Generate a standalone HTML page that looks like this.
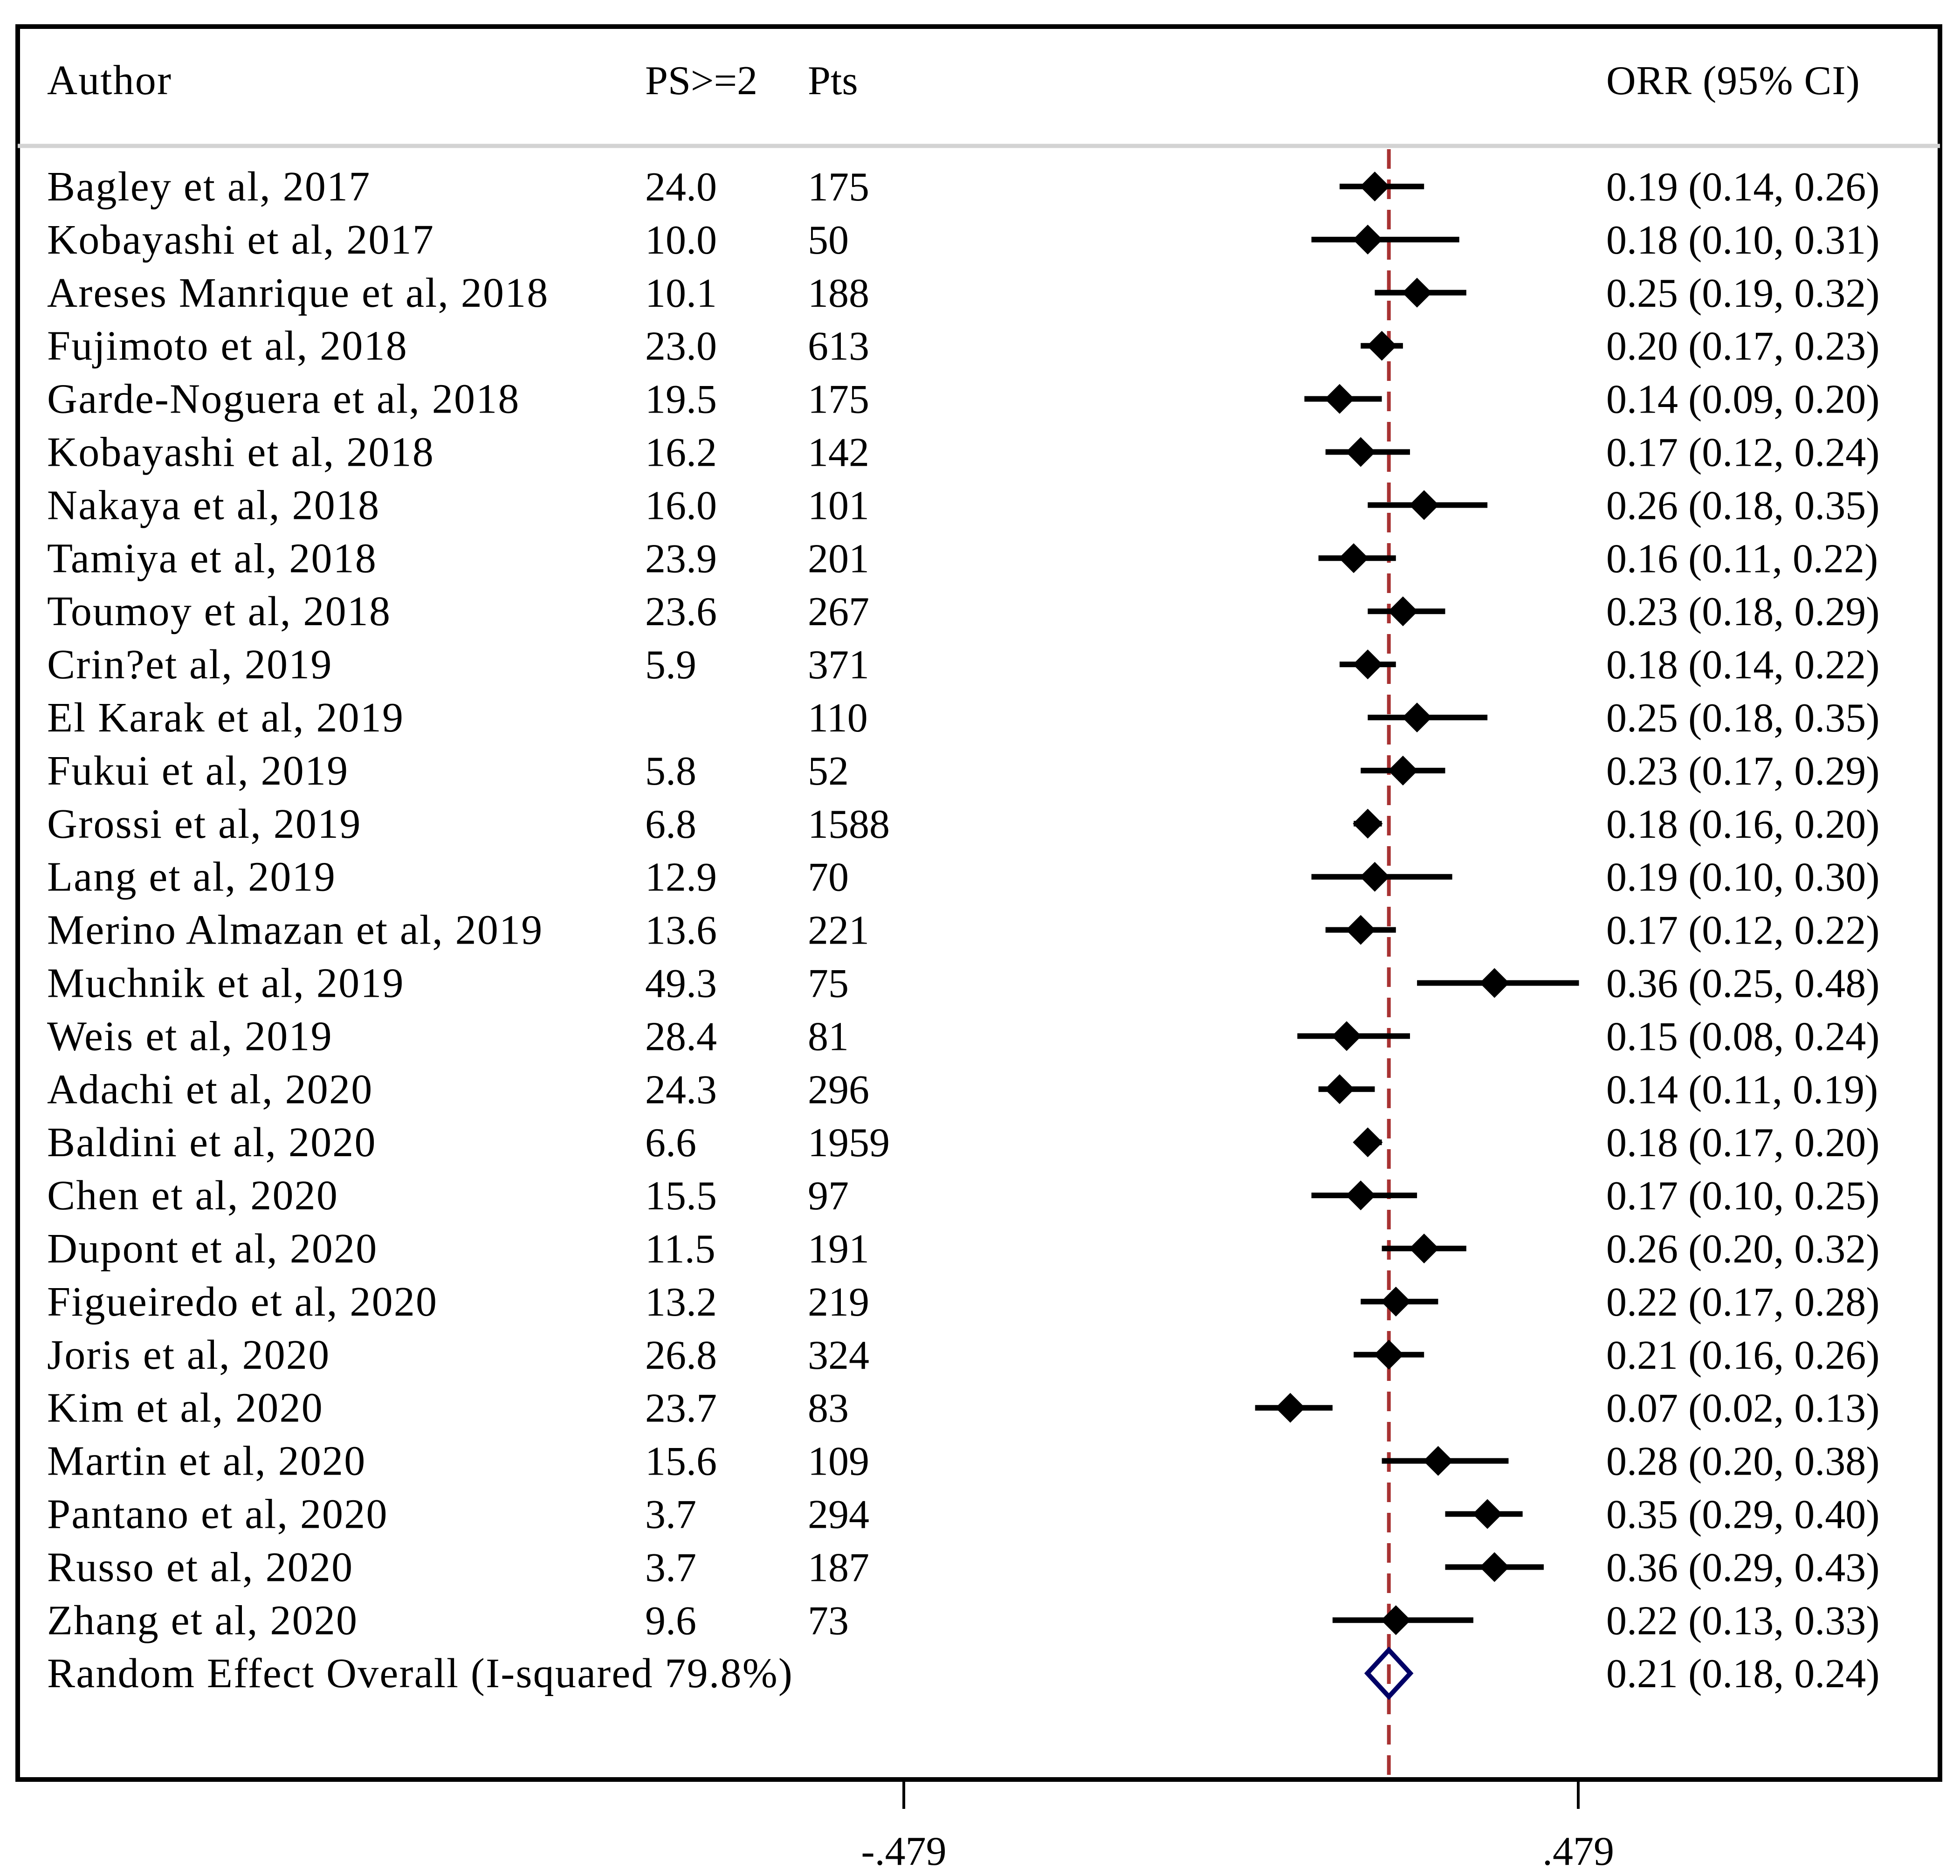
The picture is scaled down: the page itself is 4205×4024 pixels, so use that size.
<!DOCTYPE html>
<html><head><meta charset="utf-8"><style>
html,body{margin:0;padding:0;background:#fff;}
svg{display:block;}
text{font-family:"Liberation Serif",serif;font-size:88px;fill:#000;}
text.au{font-size:90px;letter-spacing:2.2px;}
</style></head><body>
<svg id="chart" width="4205" height="4024" viewBox="0 0 4205 4024" xmlns="http://www.w3.org/2000/svg">
<rect x="38" y="57" width="4124" height="3760" fill="none" stroke="#000" stroke-width="10"/>
<line x1="38" y1="313" x2="4162" y2="313" stroke="#d3d3d3" stroke-width="9"/>
<text class="au" x="101" y="202">Author</text>
<text x="1384" y="202">PS&gt;=2</text>
<text x="1733" y="202">Pts</text>
<text x="3446" y="202" style="letter-spacing:1px">ORR (95% CI)</text>
<g id="rows"></g>
<g id="axis"></g>
</svg>
<script>
const authors=["Bagley et al, 2017","Kobayashi et al, 2017","Areses Manrique et al, 2018","Fujimoto et al, 2018","Garde-Noguera et al, 2018","Kobayashi et al, 2018","Nakaya et al, 2018","Tamiya et al, 2018","Toumoy et al, 2018","Crin?et al, 2019","El Karak et al, 2019","Fukui et al, 2019","Grossi et al, 2019","Lang et al, 2019","Merino Almazan et al, 2019","Muchnik et al, 2019","Weis et al, 2019","Adachi et al, 2020","Baldini et al, 2020","Chen et al, 2020","Dupont et al, 2020","Figueiredo et al, 2020","Joris et al, 2020","Kim et al, 2020","Martin et al, 2020","Pantano et al, 2020","Russo et al, 2020","Zhang et al, 2020"];
const psValues=["24.0","10.0","10.1","23.0","19.5","16.2","16.0","23.9","23.6","5.9","","5.8","6.8","12.9","13.6","49.3","28.4","24.3","6.6","15.5","11.5","13.2","26.8","23.7","15.6","3.7","3.7","9.6"];
const ptsValues=[175,50,188,613,175,142,101,201,267,371,110,52,1588,70,221,75,81,296,1959,97,191,219,324,83,109,294,187,73];
const est=[0.19,0.18,0.25,0.20,0.14,0.17,0.26,0.16,0.23,0.18,0.25,0.23,0.18,0.19,0.17,0.36,0.15,0.14,0.18,0.17,0.26,0.22,0.21,0.07,0.28,0.35,0.36,0.22];
const lo=[0.14,0.10,0.19,0.17,0.09,0.12,0.18,0.11,0.18,0.14,0.18,0.17,0.16,0.10,0.12,0.25,0.08,0.11,0.17,0.10,0.20,0.17,0.16,0.02,0.20,0.29,0.29,0.13];
const hi=[0.26,0.31,0.32,0.23,0.20,0.24,0.35,0.22,0.29,0.22,0.35,0.29,0.20,0.30,0.22,0.48,0.24,0.19,0.20,0.25,0.32,0.28,0.26,0.13,0.38,0.40,0.43,0.33];
const overall={est:0.21,lo:0.18,hi:0.24,label:"Random Effect Overall (I-squared 79.8%)"};
const tickValues=[-0.479,0.479];
const tickLabels=["-.479",".479"];

const NS="http://www.w3.org/2000/svg";
const X0=2662.5, XS=1510.4;
function xs(v){return X0+v*XS;}
const Y0=400, DY=113.9;
function ys(i){return Y0+i*DY;}
function fmt(v){return v.toFixed(2);}
const rows=document.getElementById('rows');
function mk(tag,attrs,parent){const e=document.createElementNS(NS,tag);for(const k in attrs)e.setAttribute(k,attrs[k]);parent.appendChild(e);return e;}
function txt(x,y,s,parent){const t=mk('text',{x:x,y:y},parent);t.textContent=s;return t;}

const ref=mk('line',{x1:xs(overall.est),y1:320,x2:xs(overall.est),y2:3812,stroke:'#a83232','stroke-width':8,'stroke-dasharray':'42 23'},rows);



authors.forEach((a,i)=>{
  const y=ys(i);
  const g=mk('g',{},rows);
  
  
  const t1=txt(101,y+30,a,g);
  t1.setAttribute('class','au');
  
  
  const t2=txt(1384,y+30,psValues[i],g);
  
  
  const t3=txt(1733,y+30,String(ptsValues[i]),g);
  
  
  const t4=txt(3446,y+30,fmt(est[i])+" ("+fmt(lo[i])+", "+fmt(hi[i])+")",g);
  
  
  const ci=mk('line',{x1:xs(lo[i]),y1:y,x2:xs(hi[i]),y2:y,stroke:'#000','stroke-width':12},g);
  
  
  const h=32, cx=xs(est[i]);
  const d=mk('polygon',{points:`${cx},${y-h} ${cx+h},${y} ${cx},${y+h} ${cx-h},${y}`,fill:'#000'},g);
  
  
});
const oy=ys(authors.length);
const ot=txt(101,oy+30,overall.label,rows);
ot.setAttribute('class','au');


const ov=txt(3446,oy+30,fmt(overall.est)+" ("+fmt(overall.lo)+", "+fmt(overall.hi)+")",rows);


const ocx=xs(overall.est);
const od=mk('polygon',{points:`${ocx},${oy-50} ${ocx+46},${oy} ${ocx},${oy+50} ${ocx-46},${oy}`,fill:'none',stroke:'#000066','stroke-width':10},rows);



const axis=document.getElementById('axis');
tickValues.forEach((v,i)=>{
  const tl=mk('line',{x1:xs(v),y1:3817,x2:xs(v),y2:3880,stroke:'#000','stroke-width':6},axis);
  
  
  const t=txt(xs(v),4000,tickLabels[i],axis);
  t.setAttribute('text-anchor','middle');
  
  
});
</script>
</body></html>
